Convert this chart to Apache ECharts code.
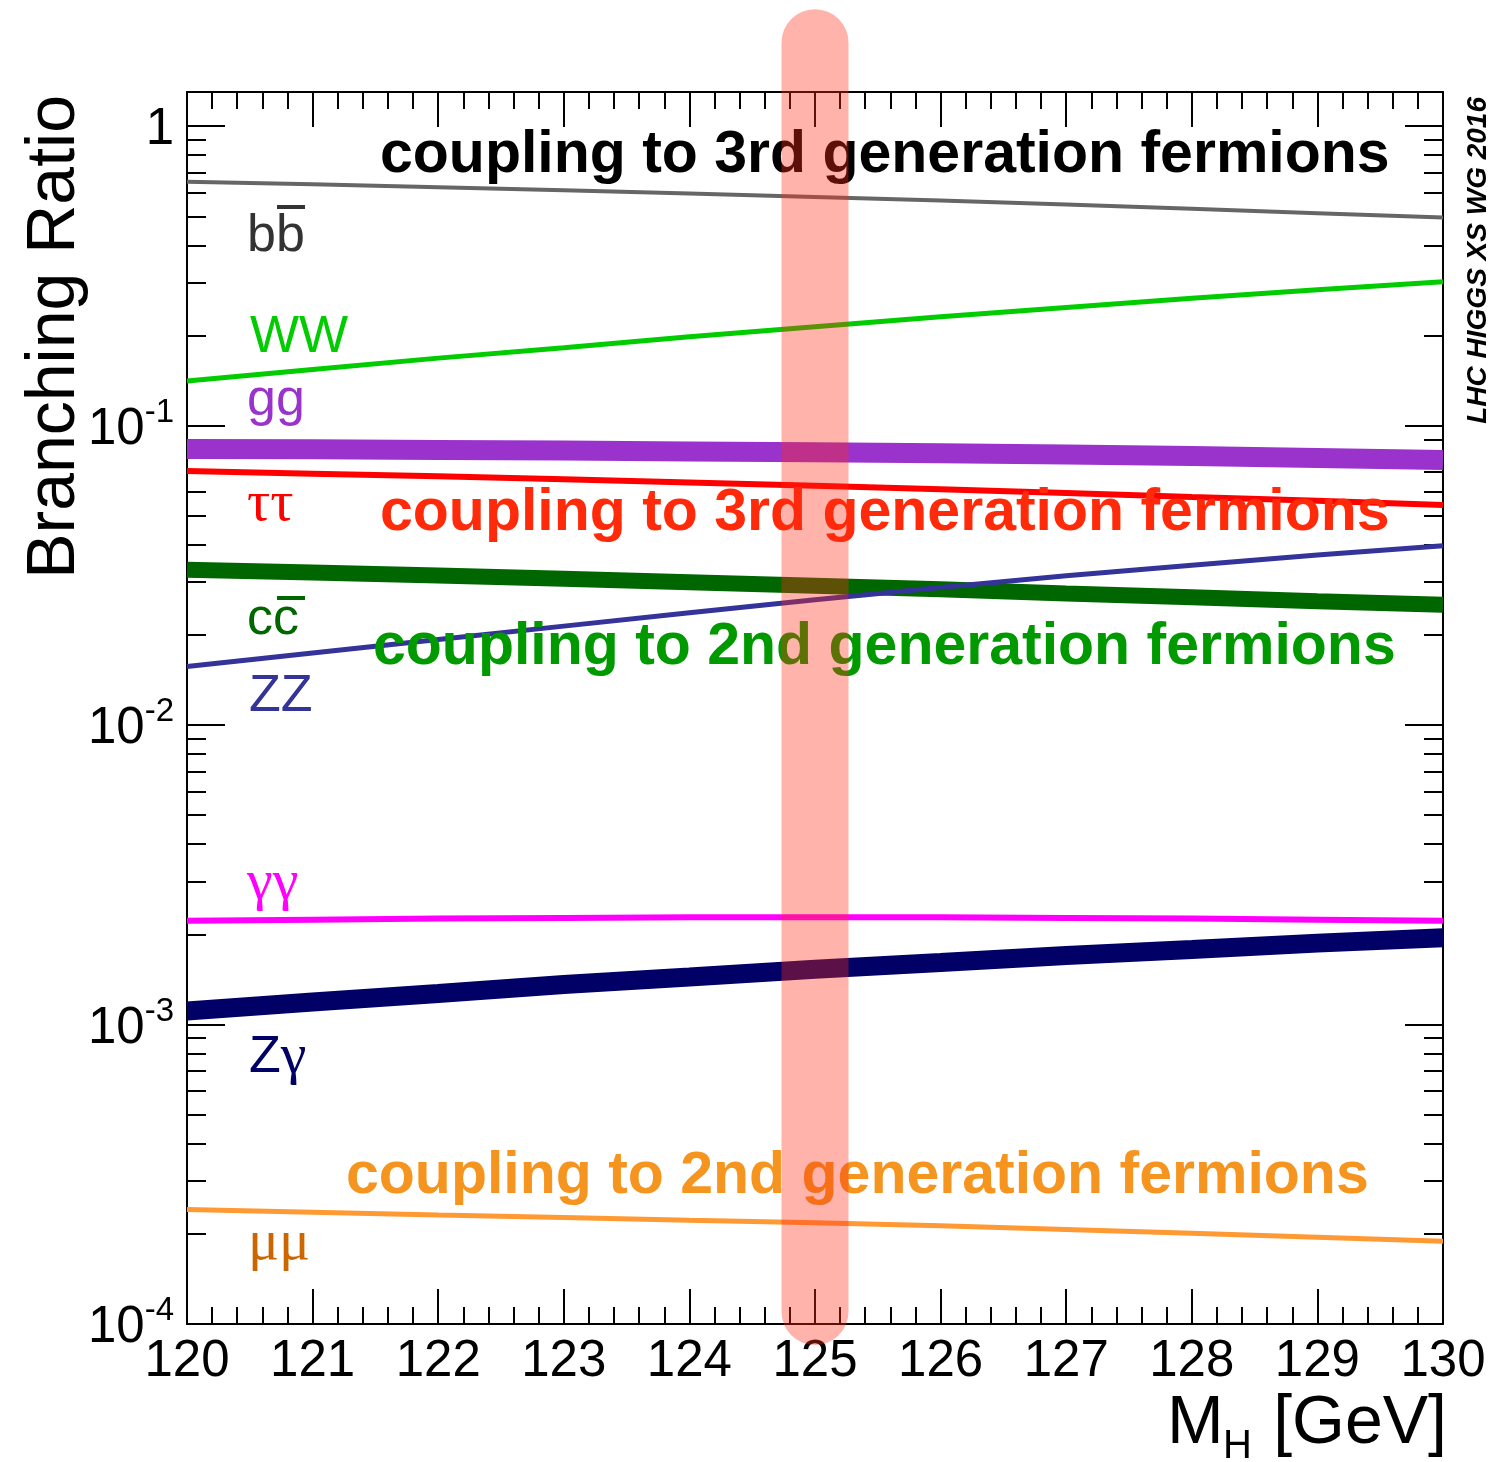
<!DOCTYPE html>
<html>
<head>
<meta charset="utf-8">
<script src="https://cdn.jsdelivr.net/npm/echarts@6/dist/echarts.min.js"></script>
<style>
html, body { margin: 0; padding: 0; background: #fff; }
#br_chart { width: 1502px; height: 1462px; }
</style>
</head>
<body>
<div id="br_chart"></div>
<script>
// Higgs mass points [GeV]
var mass = [120, 121, 122, 123, 124, 125, 126, 127, 128, 129, 130];

// branching ratios
var br_bb     = [0.652, 0.639, 0.625, 0.611, 0.596, 0.580, 0.564, 0.547, 0.530, 0.512, 0.495];
var br_ww     = [0.141, 0.154, 0.168, 0.182, 0.198, 0.214, 0.231, 0.248, 0.266, 0.284, 0.302];
var br_gg     = [0.0836, 0.0833, 0.0829, 0.0825, 0.0820, 0.0815, 0.0808, 0.0800, 0.0791, 0.0780, 0.0768];
var br_tautau = [0.0705, 0.0691, 0.0677, 0.0662, 0.0646, 0.0630, 0.0613, 0.0596, 0.0578, 0.0561, 0.0543];
var br_cc     = [0.0330, 0.0323, 0.0316, 0.0308, 0.0300, 0.0292, 0.0284, 0.0275, 0.0267, 0.0259, 0.0252];
var br_zz     = [0.0157, 0.0174, 0.0193, 0.0214, 0.0237, 0.0262, 0.0288, 0.0315, 0.0342, 0.0370, 0.0397];
var br_gamgam = [0.00222, 0.00224, 0.00226, 0.00227, 0.00228, 0.00228, 0.00228, 0.00227, 0.00226, 0.00224, 0.00222];
var br_zgam   = [0.00111, 0.00119, 0.00127, 0.00136, 0.00144, 0.00153, 0.00161, 0.00170, 0.00178, 0.00187, 0.00195];
var br_mumu   = [0.000241, 0.000236, 0.000231, 0.000227, 0.000222, 0.000218, 0.000213, 0.000207, 0.000201, 0.000195, 0.000189];

// axis ranges and tick labels
var x_min = 120;
var x_max = 130;
var y_min = 1e-4;
var y_max = 1.3;
var y_major_exp = [-4, -3, -2, -1, 0];
var y_label_base = ['10', '10', '10', '10', '1'];
var y_label_sup = ['-4', '-3', '-2', '-1', ''];

// the 125 GeV band
var band_mass = 125;
var band_br = [1.9, 1.1e-4];

var sans = "'Liberation Sans', Arial, sans-serif";
var serif = "'Liberation Serif', 'Times New Roman', serif";

function log10(v){
	return Math.log(v) / Math.LN10;
}

function minor_exp(){
	var arr = new Array();
	for(var e = -4; e < 0; e++){
		for(var k = 2; k <= 9; k++){
			var v = log10(k) + e;
			if(v <= log10(y_max)) arr.push(v);
		}
	}
	return arr;
}

function y_label(v){
	var r = Math.round(v);
	if(Math.abs(v - r) > 1e-6) return '';
	var i = y_major_exp.indexOf(r);
	if(i < 0) return '';
	var s = '{b|' + y_label_base[i] + '}';
	if(y_label_sup[i] != '') s += '{s|' + y_label_sup[i] + '}';
	return s;
}

function line_series(name, values, color, width){
	var data = new Array();
	for(var i = 0; i < mass.length; i++){
		data.push([mass[i], values[i]]);
	}
	return {
		name: name,
		type: 'line',
		xAxisIndex: 0,
		yAxisIndex: 0,
		data: data,
		symbol: 'none',
		silent: true,
		lineStyle: { color: color, width: width },
		z: 3
	};
}

function x_axis(pos, labels){
	return {
		type: 'value',
		position: pos,
		min: x_min,
		max: x_max,
		interval: 1,
		axisLine: { show: true, onZero: false, lineStyle: { color: '#000', width: 2 } },
		axisTick: { show: true, inside: true, length: 35, lineStyle: { color: '#000', width: 2 } },
		minorTick: { show: true, splitNumber: 5, length: 17, lineStyle: { color: '#000', width: 2 } },
		axisLabel: { show: labels, margin: 12, color: '#000', fontSize: 51, fontFamily: sans },
		splitLine: { show: false }
	};
}

function y_tick_axis(pos, major, labels){
	var values = major ? y_major_exp : minor_exp();
	return {
		type: 'value',
		position: pos,
		min: -4,
		max: log10(y_max),
		axisLine: { show: major, onZero: false, lineStyle: { color: '#000', width: 2 } },
		axisTick: { show: true, inside: true, length: major ? 38 : 19, customValues: values, lineStyle: { color: '#000', width: 2 } },
		axisLabel: {
			show: labels,
			customValues: y_major_exp,
			margin: 13,
			color: '#000',
			fontFamily: sans,
			formatter: y_label,
			rich: {
				b: { fontSize: 51, lineHeight: 59, verticalAlign: 'bottom', fontFamily: sans, color: '#000' },
				s: { fontSize: 33, lineHeight: 36, verticalAlign: 'top', fontFamily: sans, color: '#000' }
			}
		},
		splitLine: { show: false }
	};
}

function txt(str, x, y, color, font, extra){
	var el = {
		type: 'text',
		x: x,
		y: y,
		z: 10,
		silent: true,
		style: { text: str, fill: color, font: font, align: 'left', verticalAlign: 'middle' }
	};
	if(extra){
		for(var k in extra) el.style[k] = extra[k];
	}
	return el;
}

function overline(x1, x2, y, color){
	return {
		type: 'line',
		z: 10,
		silent: true,
		shape: { x1: x1, y1: y, x2: x2, y2: y },
		style: { stroke: color, lineWidth: 4 }
	};
}

var chart = echarts.init(document.getElementById('br_chart'));

var series = [
	line_series('bb', br_bb, '#666666', 4),
	line_series('WW', br_ww, '#00cc00', 5),
	line_series('gg', br_gg, '#9933cc', 20),
	line_series('tautau', br_tautau, '#ff0000', 6),
	line_series('cc', br_cc, '#006600', 16),
	line_series('ZZ', br_zz, '#333399', 5),
	line_series('gamgam', br_gamgam, '#ff00ff', 6),
	line_series('Zgam', br_zgam, '#000066', 19),
	line_series('mumu', br_mumu, '#ff9933', 5),
	{
		name: 'band',
		type: 'line',
		xAxisIndex: 0,
		yAxisIndex: 0,
		data: [[band_mass, band_br[0]], [band_mass, band_br[1]]],
		symbol: 'none',
		silent: true,
		clip: false,
		lineStyle: { color: 'rgba(255,45,20,0.36)', width: 67, cap: 'round' },
		z: 20
	}
];

var big = 'bold 59px ' + sans;
var lab = '52px ' + sans;
var glab = '58px ' + serif;

var graphics = [
	txt('coupling to 3rd generation fermions', 380, 156, '#000000', big),
	txt('coupling to 3rd generation fermions', 380, 514, '#ff2a0a', big),
	txt('coupling to 2nd generation fermions', 373, 648, '#009a00', big),
	txt('coupling to 2nd generation fermions', 346, 1177, '#f5951f', big),
	txt('bb', 247, 237, '#333333', lab),
	overline(277, 305, 207, '#333333'),
	txt('WW', 250, 338, '#00cc00', lab),
	txt('gg', 247, 401, '#9933cc', lab),
	txt('ττ', 247, 505, '#ff0000', glab),
	txt('cc', 247, 620, '#006600', lab),
	overline(277, 305, 598, '#006600'),
	txt('ZZ', 249, 697, '#333399', lab),
	txt('γγ', 247, 884, '#ff00ff', glab),
	txt('{a|Z}{g|γ}', 249, 1058, '#000066', lab, {
		rich: {
			a: { font: lab, fill: '#000066' },
			g: { font: glab, fill: '#000066' }
		}
	}),
	txt('μμ', 248, 1244, '#cc6600', glab),
	// axis titles
	{
		type: 'text', x: 55, y: 95, rotation: Math.PI / 2, z: 10, silent: true,
		style: { text: 'Branching Ratio', fill: '#000', font: '68px ' + sans, align: 'right', verticalAlign: 'middle' }
	},
	txt('M', 1167, 1424, '#000', '68px ' + sans),
	txt('H', 1223, 1447, '#000', '40px ' + sans),
	txt(' [GeV]', 1447, 1424, '#000', '68px ' + sans, { align: 'right' }),
	{
		type: 'text', x: 1478, y: 97, rotation: Math.PI / 2, z: 10, silent: true,
		style: { text: 'LHC HIGGS XS WG 2016', fill: '#000', font: 'italic bold 28px ' + sans, align: 'right', verticalAlign: 'middle' }
	}
];

var option = {
	animation: false,
	backgroundColor: '#ffffff',
	grid: { left: 187, right: 59, top: 92, bottom: 138, containLabel: false },
	xAxis: [
		x_axis('bottom', true),
		x_axis('top', false)
	],
	yAxis: [
		{ type: 'log', logBase: 10, min: y_min, max: y_max, show: false },
		y_tick_axis('left', true, true),
		y_tick_axis('left', false, false),
		y_tick_axis('right', true, false),
		y_tick_axis('right', false, false)
	],
	series: series,
	graphic: graphics
};

chart.setOption(option);
</script>
</body>
</html>
